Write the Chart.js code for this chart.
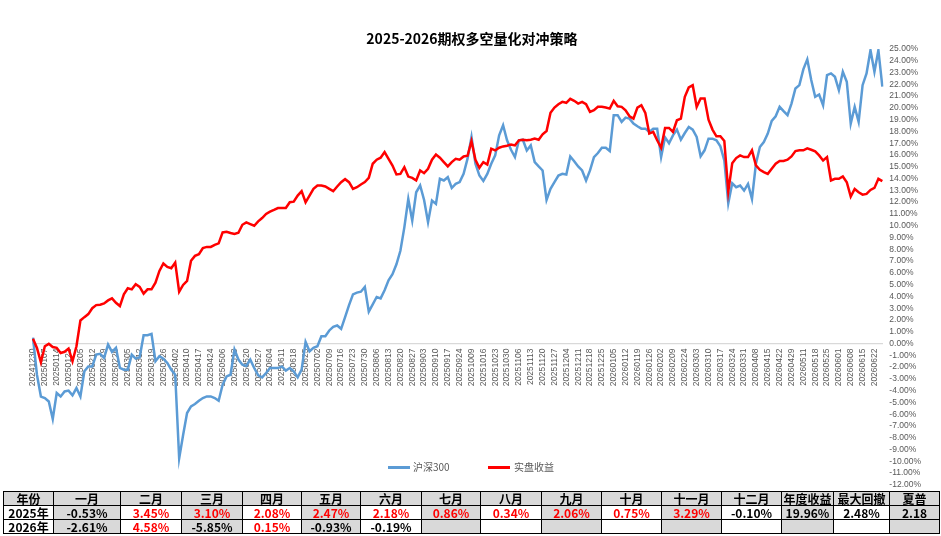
<!DOCTYPE html>
<html>
<head>
<meta charset="utf-8">
<title>2025-2026期权多空量化对冲策略</title>
<script src="https://cdn.jsdelivr.net/npm/chart.js@4.4.1/dist/chart.umd.min.js"></script>
<style>
    body { margin: 0; background: #fff; width: 941px; height: 536px; overflow: hidden; position: relative; }
    #caja { position: absolute; left: 0; top: 0; width: 941px; height: 497px; }
    #titulo { position: absolute; left: 272px; width: 400px; top: 29px; text-align: center;
        font: bold 14px/18px "Noto Sans CJK SC", sans-serif; color: #000; }
    .lgLinea { position: absolute; top: 466px; width: 22px; height: 3px; }
    .lgTexto { position: absolute; top: 460px; font: 10px/14px "Noto Sans CJK SC", sans-serif; color: #595959; }
    #tabla { position: absolute; left: 3px; top: 491px; width: 936px; border-collapse: collapse; table-layout: fixed; }
    #tabla td { border: 1px solid #000; height: 13px; padding: 0; text-align: center; white-space: nowrap;
        font: bold 12px/13px "Noto Sans CJK SC", sans-serif; color: #000; }
    #tabla td.gris { background: #d9d9d9; }
    #tabla td.rojo { color: #ff0000; }
</style>
</head>
<body>
<div id="caja"><canvas id="myChart" width="941" height="497"></canvas></div>
<div id="titulo">2025-2026期权多空量化对冲策略</div>
<div class="lgLinea" style="left:388px;background:#5b9bd5"></div>
<div class="lgTexto" style="left:413px">沪深300</div>
<div class="lgLinea" style="left:488px;background:#ff0000"></div>
<div class="lgTexto" style="left:514px">实盘收益</div>
<table id="tabla"></table>

<script>
// etiquetas semanales del eje x (cada 5 dias habiles)
const fechas = [
    "20241230", "20250107", "20250114", "20250121", "20250205", "20250212", "20250219", "20250226",
    "20250305", "20250312", "20250319", "20250326", "20250402", "20250410", "20250417", "20250424",
    "20250506", "20250513", "20250520", "20250527", "20250604", "20250611", "20250618", "20250625",
    "20250702", "20250709", "20250716", "20250723", "20250730", "20250806", "20250813", "20250820",
    "20250827", "20250903", "20250910", "20250917", "20250924", "20251009", "20251016", "20251023",
    "20251030", "20251106", "20251113", "20251120", "20251127", "20251204", "20251211", "20251218",
    "20251225", "20260105", "20260112", "20260119", "20260126", "20260202", "20260209", "20260224",
    "20260303", "20260310", "20260317", "20260324", "20260331", "20260408", "20260415", "20260422",
    "20260429", "20260511", "20260518", "20260525", "20260601", "20260608", "20260615", "20260622"
];

// 沪深300 (%), 3 puntos por semana
const hs300 = [
    0.5, -2.65, -4.5, -4.63, -4.92, -6.4, -4.2, -4.5, -4.07, -4.0, -4.4, -3.78,
    -4.5, -2.36, -1.94, -1.94, -0.94, -0.88, -1.22, -0.09, -0.71, -0.37, -2.07, -2.22,
    -2.22, -0.94, -1.28, -1.17, 0.71, 0.71, 0.82, -1.5, -1.08, -1.28, -1.65, -2.22,
    -2.65, -9.75, -7.76, -5.9, -5.33, -5.14, -4.86, -4.63, -4.49, -4.49, -4.63, -4.86,
    -3.5, -2.79, -2.65, -0.51, -1.36, -1.8, -1.9, -1.37, -2.08, -2.7, -2.87, -2.5,
    -2.08, -2.08, -2.08, -1.94, -2.3, -2.08, -2.36, -2.87, -2.22, 0.14, -0.66, -0.37,
    -0.23, 0.62, 0.62, 1.11, 1.42, 1.53, 1.25, 2.24, 3.26, 4.17, 4.32, 4.4,
    4.8, 2.7, 3.32, 3.95, 3.83, 4.52, 5.37, 5.88, 6.73, 7.87, 9.86, 12.27,
    10.43, 12.84, 13.41, 12.19, 10.3, 12.13, 11.85, 13.98, 13.84, 14.12, 13.2, 13.55,
    13.7, 14.4, 15.69, 17.53, 15.26, 14.26, 13.8, 14.4, 15.26, 15.97, 17.67, 18.53,
    17.25, 16.45, 15.83, 17.25, 17.3, 16.39, 16.82, 15.4, 15.03, 14.69, 12.19, 13.13,
    13.7, 14.26, 14.4, 14.35, 15.88, 15.48, 15.03, 14.69, 13.84, 14.69, 15.83, 16.17,
    16.62, 16.62, 16.34, 19.38, 19.38, 18.81, 19.18, 19.09, 18.67, 18.44, 18.24, 18.24,
    17.96, 18.24, 18.24, 15.83, 17.5, 17.0, 17.67, 18.16, 17.3, 17.87, 18.38, 18.16,
    17.53, 15.9, 16.4, 17.39, 17.39, 17.25, 16.74, 15.54, 11.9, 13.6, 13.27, 13.41,
    12.98, 13.55, 12.27, 15.26, 16.68, 17.1, 17.82, 18.9, 19.29, 20.09, 19.72, 19.38,
    20.37, 21.65, 21.93, 23.27, 24.12, 22.36, 20.94, 21.14, 20.23, 22.79, 22.93, 22.64,
    21.5, 23.07, 22.22, 18.67, 20.09, 18.81, 21.93, 22.93, 24.9, 23.07, 24.9, 21.8
];

// 实盘收益 (%), 3 puntos por semana
const shipan = [
    0.4, -0.37, -1.6, -0.23, -0.03, -0.3, -0.37, -0.8, -0.7, -0.43, -1.5, -0.23,
    1.96, 2.24, 2.5, 3.0, 3.26, 3.3, 3.4, 3.66, 3.83, 3.46, 3.18, 4.17,
    4.69, 4.6, 5.03, 4.8, 4.23, 4.6, 4.6, 5.17, 6.16, 6.79, 6.5, 6.39,
    6.87, 4.4, 4.97, 5.31, 7.02, 7.44, 7.58, 8.1, 8.2, 8.2, 8.38, 8.5,
    9.43, 9.49, 9.38, 9.3, 9.4, 10.08, 10.28, 10.14, 10.0, 10.37, 10.65, 11.0,
    11.19, 11.34, 11.5, 11.5, 11.5, 11.99, 12.04, 12.56, 12.93, 11.99, 12.56, 13.13,
    13.41, 13.41, 13.33, 13.13, 12.93, 13.33, 13.7, 13.95, 13.7, 13.13, 13.27, 13.5,
    13.7, 14.06, 15.26, 15.6, 15.77, 16.25, 15.68, 15.11, 14.35, 14.4, 14.97, 14.17,
    14.06, 13.84, 14.69, 14.46, 14.83, 15.6, 16.05, 15.77, 15.4, 15.03, 15.4, 15.68,
    15.6, 15.88, 15.94, 17.19, 15.6, 14.92, 15.4, 15.2, 16.54, 16.39, 16.62, 16.73,
    16.79, 16.9, 16.82, 17.25, 17.3, 17.25, 17.3, 17.39, 17.3, 17.76, 18.04, 19.58,
    20.03, 20.31, 20.51, 20.43, 20.77, 20.6, 20.37, 20.51, 20.31, 19.66, 19.8, 20.09,
    20.09, 20.03, 19.94, 20.6, 20.14, 20.09, 19.8, 19.29, 19.09, 20.03, 20.23, 19.58,
    17.82, 17.96, 17.25, 16.62, 18.3, 18.3, 17.96, 18.95, 19.09, 20.94, 21.74, 21.93,
    20.09, 20.8, 20.8, 19.0, 18.16, 17.59, 17.59, 17.2, 12.9, 15.3, 15.74, 15.97,
    15.83, 15.83, 16.4, 15.12, 14.75, 14.55, 14.4, 14.83, 15.26, 15.49, 15.49, 15.6,
    15.88, 16.34, 16.4, 16.4, 16.57, 16.45, 16.31, 15.97, 15.54, 15.83, 13.84, 13.98,
    13.98, 14.18, 13.69, 12.47, 13.12, 12.84, 12.64, 12.7, 13.04, 13.21, 13.98, 13.78
];

// tabla mensual
const cabecera = ["年份", "一月", "二月", "三月", "四月", "五月", "六月", "七月", "八月", "九月", "十月", "十一月", "十二月", "年度收益", "最大回撤", "夏普"];
const anios = ["2025年", "2026年"];
const meses2025 = ["-0.53%", "3.45%", "3.10%", "2.08%", "2.47%", "2.18%", "0.86%", "0.34%", "2.06%", "0.75%", "3.29%", "-0.10%"];
const meses2026 = ["-2.61%", "4.58%", "-5.85%", "0.15%", "-0.93%", "-0.19%", "", "", "", "", "", ""];
const resumen2025 = ["19.96%", "2.48%", "2.18"];
const resumen2026 = ["", "", ""];

function prepararConfiguracion() {
    // una etiqueta visible cada 3 puntos
    const etiquetas = [];
    fechas.forEach((f) => { etiquetas.push(f, "", ""); });

    const config = {
        type: "line",
        data: {
            labels: etiquetas,
            datasets: [
                { label: "沪深300", data: hs300, borderColor: "#5b9bd5", borderWidth: 2.5, order: 1 },
                { label: "实盘收益", data: shipan, borderColor: "#ff0000", borderWidth: 2.5, order: 0 }
            ]
        },
        options: {
            responsive: false,
            animation: false,
            devicePixelRatio: 1,
            elements: { point: { radius: 0 }, line: { tension: 0 } },
            layout: { padding: { top: 49, left: 33, right: 13, bottom: 7 } },
            plugins: {
                legend: { display: false },
                tooltip: { enabled: false },
                title: { display: false }
            },
            scales: {
                x: {
                    type: "category",
                    position: { y: 0 },
                    grid: { display: false, drawTicks: false },
                    border: { display: true, color: "#d9d9d9", width: 1.3 },
                    ticks: {
                        autoSkip: false, minRotation: 90, maxRotation: 90, padding: 5,
                        color: "#595959", font: { family: "Liberation Sans", size: 8.5 }
                    }
                },
                y: {
                    position: "right",
                    min: -12,
                    max: 25,
                    grid: { display: false, drawTicks: false },
                    border: { display: false },
                    ticks: {
                        stepSize: 1, autoSkip: false, padding: 7,
                        color: "#595959", font: { family: "Liberation Sans", size: 8.5 },
                        callback: (v) => v.toFixed(2) + "%"
                    }
                }
            }
        }
    };
    return config;
}

function renderTabla() {
    const tabla = document.querySelector("#tabla");
    const anchos = [50, 67, 61, 61, 59, 59, 61, 59, 61, 60, 60, 60, 60, 52, 56, 50];
    let html = "<colgroup>" + anchos.map((a) => `<col style="width:${a}px">`).join("") + "</colgroup>";

    html += "<tr>" + cabecera.map((c) => `<td class="gris">${c}</td>`).join("") + "</tr>";

    const filas = [
        [anios[0], ...meses2025, ...resumen2025],
        [anios[1], ...meses2026, ...resumen2026]
    ];
    filas.forEach((fila) => {
        html += "<tr>";
        fila.forEach((valor, j) => {
            let clase = j % 2 === 1 ? "gris" : "";
            // meses positivos en rojo
            if (j >= 1 && j <= 12 && valor !== "" && parseFloat(valor) > 0) clase += " rojo";
            html += `<td class="${clase}">${valor}</td>`;
        });
        html += "</tr>";
    });
    tabla.innerHTML = html;
}

function renderGrafica() {
    const chartDOM = document.getElementById("myChart");
    new Chart(chartDOM, prepararConfiguracion());
}

renderGrafica();
renderTabla();
</script>
</body>
</html>
